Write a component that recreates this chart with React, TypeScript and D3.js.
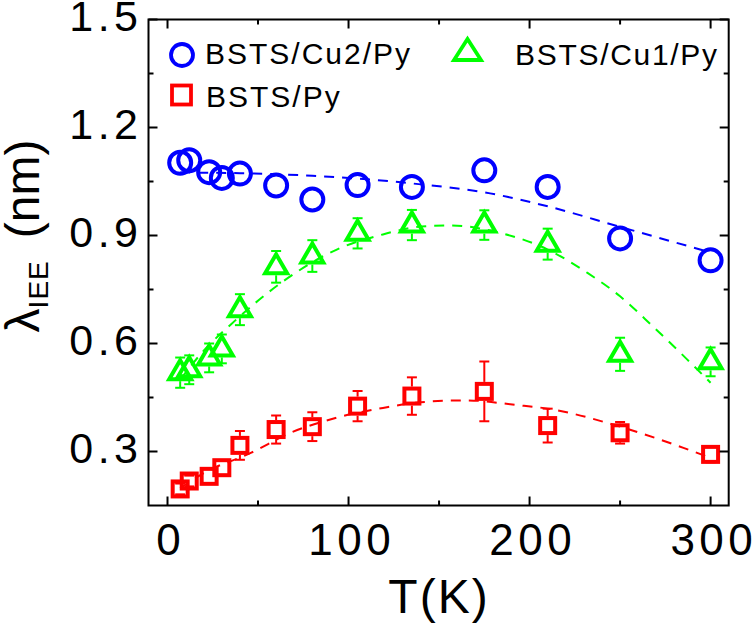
import React from "react";
import * as d3 from "d3";

// temperatures (K) shared by the three samples
const temps = [7, 12, 23, 30, 40, 60, 80, 105, 135, 175, 210, 250, 300];

// lambda_IEE (nm)
const cu2Py = [1.102, 1.109, 1.076, 1.06, 1.072, 1.039, 1.0, 1.04, 1.035, 1.081, 1.035, 0.892, 0.831];
const cu1Py = [0.519, 0.527, 0.56, 0.585, 0.694, 0.813, 0.843, 0.906, 0.929, 0.929, 0.876, 0.57, 0.549];
const cu1PyErr = [0.042, 0.04, 0.04, 0.04, 0.043, 0.044, 0.044, 0.042, 0.042, 0.041, 0.043, 0.046, 0.04];
const bstsPy = [0.196, 0.218, 0.231, 0.255, 0.317, 0.361, 0.369, 0.426, 0.454, 0.467, 0.372, 0.352, 0.292];
const bstsPyErr = [0.015, 0.015, 0.02, 0.02, 0.04, 0.039, 0.04, 0.042, 0.052, 0.083, 0.047, 0.03, 0.022];

// dashed guide curves
const fitCu2T = [7, 40, 80, 105, 140, 175, 210, 250, 300];
const fitCu2 = [1.075, 1.073, 1.066, 1.058, 1.042, 1.02, 0.981, 0.924, 0.853];
const fitCu1T = [7, 20, 35, 64, 93.5, 119, 140, 156, 184, 210, 232, 250, 268, 287, 300];
const fitCu1 = [0.5, 0.58, 0.653, 0.773, 0.861, 0.903, 0.925, 0.928, 0.907, 0.861, 0.796, 0.731, 0.648, 0.556, 0.491];
const fitPyT = [7, 20, 46, 68, 93.5, 119, 140, 165, 193, 210, 250, 285, 300];
const fitPy = [0.198, 0.24, 0.296, 0.352, 0.394, 0.421, 0.437, 0.442, 0.429, 0.419, 0.369, 0.31, 0.282];

const xMajor = [0, 100, 200, 300];
const xMinor = [50, 150, 250];
const yMajor = [0.3, 0.6, 0.9, 1.2, 1.5];
const yMinor = [0.45, 0.75, 1.05, 1.35];

const BLUE = "#0000ff";
const GREEN = "#00ff00";
const RED = "#ff0000";
const FONT = "'Liberation Sans', Arial, sans-serif";

const W = 752;
const H = 625;
const left = 148.5;
const right = 728.7;
const top = 19.5;
const bottom = 505.5;

const x = d3.scaleLinear().domain([-10.5, 310]).range([left, right]);
const y = d3.scaleLinear().domain([0.15, 1.5]).range([bottom, top]);

const line = d3
  .line<[number, number]>()
  .x((d) => x(d[0]))
  .y((d) => y(d[1]))
  .curve(d3.curveMonotoneX);

const zip = (a: number[], b: number[]) => a.map((t, i) => [t, b[i]] as [number, number]);

const triPath = (cx: number, cy: number, up: number, down: number, hw: number) =>
  `M${cx},${cy - up}L${cx + hw},${cy + down}L${cx - hw},${cy + down}Z`;

// error bar drawn only outside the marker
const ErrBar = ({ t, v, e, color, upOff, downOff }: any) => {
  const cx = x(t);
  const cy = y(v);
  const yt = y(v + e);
  const yb = y(v - e);
  return (
    <g stroke={color} strokeWidth={2}>
      {yt < cy - upOff && <line x1={cx} x2={cx} y1={yt} y2={cy - upOff} />}
      {yb > cy + downOff && <line x1={cx} x2={cx} y1={cy + downOff} y2={yb} />}
      <line x1={cx - 5} x2={cx + 5} y1={yt} y2={yt} />
      <line x1={cx - 5} x2={cx + 5} y1={yb} y2={yb} />
    </g>
  );
};

export default function App() {
  const tickLs = 4.5;
  const mw = 4;
  return (
    <svg
      width={W}
      height={H}
      style={{ position: "absolute", left: 0, top: 0, background: "#fff" }}
      fontFamily={FONT}
    >
      {/* guide curves */}
      <g fill="none" strokeWidth={2} strokeDasharray="10 8">
        <path d={line(zip(fitCu2T, fitCu2)) || ""} stroke={BLUE} />
        <path d={line(zip(fitCu1T, fitCu1)) || ""} stroke={GREEN} />
        <path d={line(zip(fitPyT, fitPy)) || ""} stroke={RED} />
      </g>

      {/* BSTS/Py squares */}
      {temps.map((t, i) => (
        <ErrBar key={"re" + i} t={t} v={bstsPy[i]} e={bstsPyErr[i]} color={RED} upOff={9.5} downOff={9.5} />
      ))}
      {temps.map((t, i) => (
        <rect
          key={"r" + i}
          x={x(t) - 7.5}
          y={y(bstsPy[i]) - 7.5}
          width={15}
          height={15}
          fill="none"
          stroke={RED}
          strokeWidth={mw}
        />
      ))}

      {/* BSTS/Cu1/Py triangles */}
      {temps.map((t, i) => (
        <ErrBar key={"ge" + i} t={t} v={cu1Py[i]} e={cu1PyErr[i]} color={GREEN} upOff={14} downOff={8.5} />
      ))}
      {temps.map((t, i) => (
        <path
          key={"g" + i}
          d={triPath(x(t), y(cu1Py[i]), 12.5, 6.5, 11)}
          fill="none"
          stroke={GREEN}
          strokeWidth={mw}
        />
      ))}

      {/* BSTS/Cu2/Py circles */}
      {temps.map((t, i) => (
        <circle key={"b" + i} cx={x(t)} cy={y(cu2Py[i])} r={11} fill="none" stroke={BLUE} strokeWidth={mw} />
      ))}

      {/* frame */}
      <rect x={left} y={top} width={right - left} height={bottom - top} fill="none" stroke="#000" strokeWidth={2} />

      {/* ticks on all four sides, pointing inward */}
      <g stroke="#000" strokeWidth={2}>
        {xMajor.map((t) => (
          <g key={"xM" + t}>
            <line x1={x(t)} x2={x(t)} y1={bottom} y2={bottom - 9} />
            <line x1={x(t)} x2={x(t)} y1={top} y2={top + 9} />
          </g>
        ))}
        {xMinor.map((t) => (
          <g key={"xm" + t}>
            <line x1={x(t)} x2={x(t)} y1={bottom} y2={bottom - 5} />
            <line x1={x(t)} x2={x(t)} y1={top} y2={top + 5} />
          </g>
        ))}
        {yMajor.map((v) => (
          <g key={"yM" + v}>
            <line x1={left} x2={left + 9} y1={y(v)} y2={y(v)} />
            <line x1={right} x2={right - 9} y1={y(v)} y2={y(v)} />
          </g>
        ))}
        {yMinor.map((v) => (
          <g key={"ym" + v}>
            <line x1={left} x2={left + 5} y1={y(v)} y2={y(v)} />
            <line x1={right} x2={right - 5} y1={y(v)} y2={y(v)} />
          </g>
        ))}
      </g>

      {/* tick labels */}
      {xMajor.map((t) => (
        <text
          key={"xl" + t}
          x={x(t) + tickLs / 2 + 1}
          y={555}
          fontSize={44}
          letterSpacing={tickLs}
          textAnchor="middle"
          fill="#000"
        >
          {t}
        </text>
      ))}
      {yMajor.map((v) => (
        <text
          key={"yl" + v}
          x={138 + tickLs}
          y={y(v) + 11.5}
          fontSize={43}
          letterSpacing={tickLs}
          textAnchor="end"
          fill="#000"
        >
          {v.toFixed(1)}
        </text>
      ))}

      {/* axis titles */}
      <text x={438 + 1} y={613} fontSize={48} letterSpacing={2} textAnchor="middle" fill="#000">
        T(K)
      </text>
      <text transform="translate(39,236) rotate(-90)" fontSize={48} textAnchor="middle" fill="#000">
        <tspan>λ</tspan>
        <tspan fontSize={28} dy={9} letterSpacing={1}>
          IEE
        </tspan>
        <tspan dy={-9} dx={22}>
          (nm)
        </tspan>
      </text>

      {/* legend */}
      <circle cx={182} cy={55} r={11} fill="none" stroke={BLUE} strokeWidth={3.8} />
      <text x={205} y={64} fontSize={30} letterSpacing={2} fill="#000">
        BSTS/Cu2/Py
      </text>
      <path d={triPath(467.5, 52, 13, 8, 13.5)} fill="none" stroke={GREEN} strokeWidth={3.8} />
      <text x={515} y={65} fontSize={30} letterSpacing={1.7} fill="#000">
        BSTS/Cu1/Py
      </text>
      <rect x={172} y={85.5} width={19} height={19} fill="none" stroke={RED} strokeWidth={3.8} />
      <text x={206} y={106.5} fontSize={30} letterSpacing={2} fill="#000">
        BSTS/Py
      </text>
    </svg>
  );
}
